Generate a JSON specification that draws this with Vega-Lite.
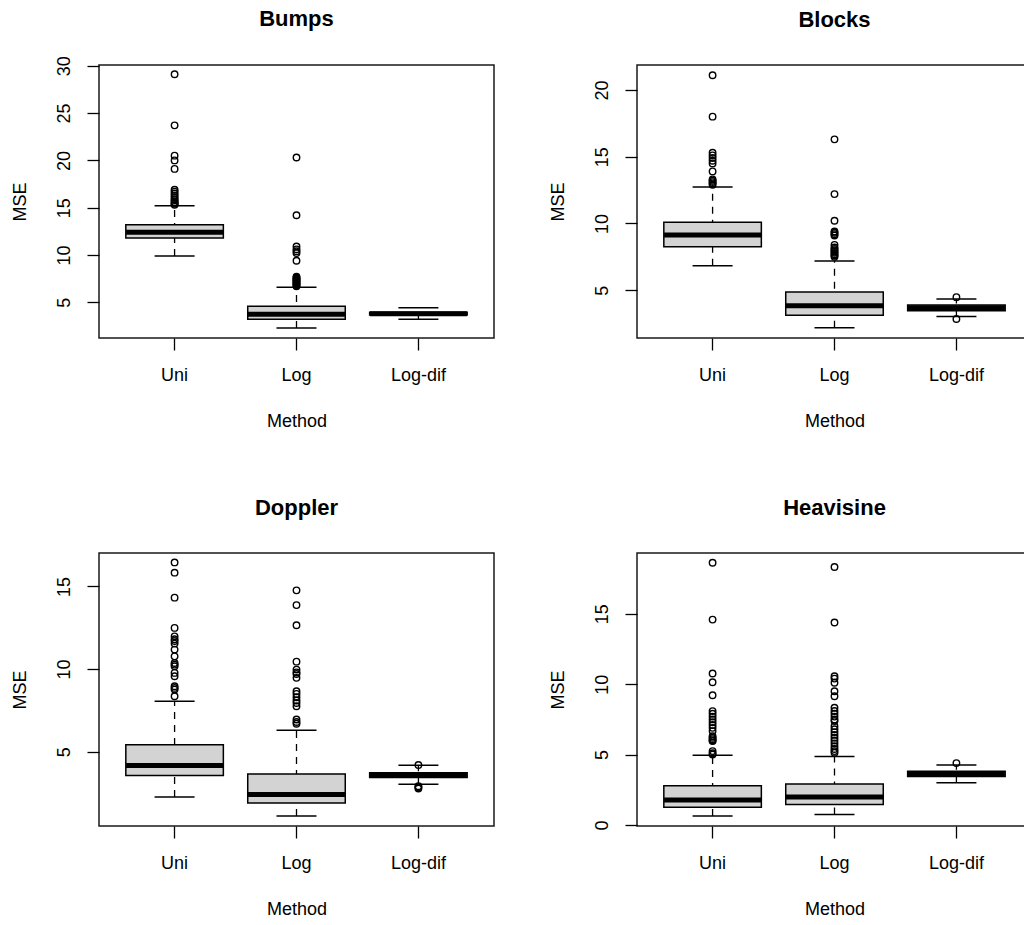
{
  "$schema": "https://vega.github.io/schema/vega-lite/v6.json",
  "padding": {"left": 10, "top": 6, "right": 0, "bottom": 0},
  "background": "white",
  "datasets": {
    "stats": [
      {"panel": "Bumps", "Method": "Uni", "lo": 9.9, "q1": 11.8, "med": 12.4, "q3": 13.2, "hi": 15.2},
      {"panel": "Bumps", "Method": "Log", "lo": 2.28, "q1": 3.2, "med": 3.73, "q3": 4.58, "hi": 6.58},
      {"panel": "Bumps", "Method": "Log-dif", "lo": 3.2, "q1": 3.65, "med": 3.8, "q3": 3.95, "hi": 4.42},
      {"panel": "Blocks", "Method": "Uni", "lo": 6.84, "q1": 8.25, "med": 9.13, "q3": 10.1, "hi": 12.73},
      {"panel": "Blocks", "Method": "Log", "lo": 2.19, "q1": 3.13, "med": 3.83, "q3": 4.87, "hi": 7.19},
      {"panel": "Blocks", "Method": "Log-dif", "lo": 3.03, "q1": 3.47, "med": 3.68, "q3": 3.89, "hi": 4.35},
      {"panel": "Doppler", "Method": "Uni", "lo": 2.26, "q1": 3.57, "med": 4.17, "q3": 5.42, "hi": 8.06},
      {"panel": "Doppler", "Method": "Log", "lo": 1.11, "q1": 1.9, "med": 2.42, "q3": 3.65, "hi": 6.3},
      {"panel": "Doppler", "Method": "Log-dif", "lo": 3.03, "q1": 3.45, "med": 3.6, "q3": 3.73, "hi": 4.19},
      {"panel": "Heavisine", "Method": "Uni", "lo": 0.64, "q1": 1.26, "med": 1.77, "q3": 2.79, "hi": 4.96},
      {"panel": "Heavisine", "Method": "Log", "lo": 0.74, "q1": 1.45, "med": 1.99, "q3": 2.91, "hi": 4.87},
      {"panel": "Heavisine", "Method": "Log-dif", "lo": 3.01, "q1": 3.44, "med": 3.63, "q3": 3.82, "hi": 4.26}
    ],
    "outliers": [
      {"panel": "Bumps", "Method": "Uni", "MSE": 29.1},
      {"panel": "Bumps", "Method": "Uni", "MSE": 23.7},
      {"panel": "Bumps", "Method": "Uni", "MSE": 20.5},
      {"panel": "Bumps", "Method": "Uni", "MSE": 20.0},
      {"panel": "Bumps", "Method": "Uni", "MSE": 19.1},
      {"panel": "Bumps", "Method": "Uni", "MSE": 16.9},
      {"panel": "Bumps", "Method": "Uni", "MSE": 16.7},
      {"panel": "Bumps", "Method": "Uni", "MSE": 16.5},
      {"panel": "Bumps", "Method": "Uni", "MSE": 16.3},
      {"panel": "Bumps", "Method": "Uni", "MSE": 16.1},
      {"panel": "Bumps", "Method": "Uni", "MSE": 15.9},
      {"panel": "Bumps", "Method": "Uni", "MSE": 15.8},
      {"panel": "Bumps", "Method": "Uni", "MSE": 15.6},
      {"panel": "Bumps", "Method": "Uni", "MSE": 15.5},
      {"panel": "Bumps", "Method": "Uni", "MSE": 15.4},
      {"panel": "Bumps", "Method": "Uni", "MSE": 15.3},
      {"panel": "Bumps", "Method": "Log", "MSE": 20.3},
      {"panel": "Bumps", "Method": "Log", "MSE": 14.2},
      {"panel": "Bumps", "Method": "Log", "MSE": 10.9},
      {"panel": "Bumps", "Method": "Log", "MSE": 10.6},
      {"panel": "Bumps", "Method": "Log", "MSE": 10.4},
      {"panel": "Bumps", "Method": "Log", "MSE": 10.2},
      {"panel": "Bumps", "Method": "Log", "MSE": 9.4},
      {"panel": "Bumps", "Method": "Log", "MSE": 7.7},
      {"panel": "Bumps", "Method": "Log", "MSE": 7.6},
      {"panel": "Bumps", "Method": "Log", "MSE": 7.5},
      {"panel": "Bumps", "Method": "Log", "MSE": 7.4},
      {"panel": "Bumps", "Method": "Log", "MSE": 7.3},
      {"panel": "Bumps", "Method": "Log", "MSE": 7.2},
      {"panel": "Bumps", "Method": "Log", "MSE": 7.1},
      {"panel": "Bumps", "Method": "Log", "MSE": 7.0},
      {"panel": "Bumps", "Method": "Log", "MSE": 6.9},
      {"panel": "Bumps", "Method": "Log", "MSE": 6.8},
      {"panel": "Bumps", "Method": "Log", "MSE": 6.7},
      {"panel": "Blocks", "Method": "Uni", "MSE": 21.1},
      {"panel": "Blocks", "Method": "Uni", "MSE": 18.0},
      {"panel": "Blocks", "Method": "Uni", "MSE": 15.3},
      {"panel": "Blocks", "Method": "Uni", "MSE": 15.1},
      {"panel": "Blocks", "Method": "Uni", "MSE": 14.9},
      {"panel": "Blocks", "Method": "Uni", "MSE": 14.7},
      {"panel": "Blocks", "Method": "Uni", "MSE": 14.5},
      {"panel": "Blocks", "Method": "Uni", "MSE": 13.9},
      {"panel": "Blocks", "Method": "Uni", "MSE": 13.3},
      {"panel": "Blocks", "Method": "Uni", "MSE": 13.2},
      {"panel": "Blocks", "Method": "Uni", "MSE": 13.1},
      {"panel": "Blocks", "Method": "Uni", "MSE": 13.0},
      {"panel": "Blocks", "Method": "Uni", "MSE": 12.9},
      {"panel": "Blocks", "Method": "Log", "MSE": 16.3},
      {"panel": "Blocks", "Method": "Log", "MSE": 12.2},
      {"panel": "Blocks", "Method": "Log", "MSE": 10.2},
      {"panel": "Blocks", "Method": "Log", "MSE": 9.4},
      {"panel": "Blocks", "Method": "Log", "MSE": 9.3},
      {"panel": "Blocks", "Method": "Log", "MSE": 9.2},
      {"panel": "Blocks", "Method": "Log", "MSE": 9.1},
      {"panel": "Blocks", "Method": "Log", "MSE": 8.4},
      {"panel": "Blocks", "Method": "Log", "MSE": 8.2},
      {"panel": "Blocks", "Method": "Log", "MSE": 8.1},
      {"panel": "Blocks", "Method": "Log", "MSE": 8.0},
      {"panel": "Blocks", "Method": "Log", "MSE": 7.9},
      {"panel": "Blocks", "Method": "Log", "MSE": 7.8},
      {"panel": "Blocks", "Method": "Log", "MSE": 7.7},
      {"panel": "Blocks", "Method": "Log", "MSE": 7.6},
      {"panel": "Blocks", "Method": "Log", "MSE": 7.5},
      {"panel": "Blocks", "Method": "Log-dif", "MSE": 4.48},
      {"panel": "Blocks", "Method": "Log-dif", "MSE": 2.84},
      {"panel": "Doppler", "Method": "Uni", "MSE": 16.45},
      {"panel": "Doppler", "Method": "Uni", "MSE": 15.83},
      {"panel": "Doppler", "Method": "Uni", "MSE": 14.32},
      {"panel": "Doppler", "Method": "Uni", "MSE": 12.49},
      {"panel": "Doppler", "Method": "Uni", "MSE": 11.98},
      {"panel": "Doppler", "Method": "Uni", "MSE": 11.8},
      {"panel": "Doppler", "Method": "Uni", "MSE": 11.7},
      {"panel": "Doppler", "Method": "Uni", "MSE": 11.54},
      {"panel": "Doppler", "Method": "Uni", "MSE": 11.18},
      {"panel": "Doppler", "Method": "Uni", "MSE": 10.77},
      {"panel": "Doppler", "Method": "Uni", "MSE": 10.37},
      {"panel": "Doppler", "Method": "Uni", "MSE": 10.27},
      {"panel": "Doppler", "Method": "Uni", "MSE": 10.17},
      {"panel": "Doppler", "Method": "Uni", "MSE": 9.77},
      {"panel": "Doppler", "Method": "Uni", "MSE": 9.57},
      {"panel": "Doppler", "Method": "Uni", "MSE": 8.96},
      {"panel": "Doppler", "Method": "Uni", "MSE": 8.86},
      {"panel": "Doppler", "Method": "Uni", "MSE": 8.76},
      {"panel": "Doppler", "Method": "Uni", "MSE": 8.36},
      {"panel": "Doppler", "Method": "Log", "MSE": 14.76},
      {"panel": "Doppler", "Method": "Log", "MSE": 13.87},
      {"panel": "Doppler", "Method": "Log", "MSE": 12.65},
      {"panel": "Doppler", "Method": "Log", "MSE": 10.45},
      {"panel": "Doppler", "Method": "Log", "MSE": 9.97},
      {"panel": "Doppler", "Method": "Log", "MSE": 9.8},
      {"panel": "Doppler", "Method": "Log", "MSE": 9.7},
      {"panel": "Doppler", "Method": "Log", "MSE": 9.47},
      {"panel": "Doppler", "Method": "Log", "MSE": 8.66},
      {"panel": "Doppler", "Method": "Log", "MSE": 8.5},
      {"panel": "Doppler", "Method": "Log", "MSE": 8.3},
      {"panel": "Doppler", "Method": "Log", "MSE": 8.1},
      {"panel": "Doppler", "Method": "Log", "MSE": 7.95},
      {"panel": "Doppler", "Method": "Log", "MSE": 7.75},
      {"panel": "Doppler", "Method": "Log", "MSE": 6.95},
      {"panel": "Doppler", "Method": "Log", "MSE": 6.8},
      {"panel": "Doppler", "Method": "Log", "MSE": 6.69},
      {"panel": "Doppler", "Method": "Log-dif", "MSE": 4.2},
      {"panel": "Doppler", "Method": "Log-dif", "MSE": 2.92},
      {"panel": "Doppler", "Method": "Log-dif", "MSE": 2.85},
      {"panel": "Doppler", "Method": "Log-dif", "MSE": 2.78},
      {"panel": "Heavisine", "Method": "Uni", "MSE": 18.63},
      {"panel": "Heavisine", "Method": "Uni", "MSE": 14.59},
      {"panel": "Heavisine", "Method": "Uni", "MSE": 10.76},
      {"panel": "Heavisine", "Method": "Uni", "MSE": 10.14},
      {"panel": "Heavisine", "Method": "Uni", "MSE": 9.22},
      {"panel": "Heavisine", "Method": "Uni", "MSE": 8.09},
      {"panel": "Heavisine", "Method": "Uni", "MSE": 7.9},
      {"panel": "Heavisine", "Method": "Uni", "MSE": 7.7},
      {"panel": "Heavisine", "Method": "Uni", "MSE": 7.5},
      {"panel": "Heavisine", "Method": "Uni", "MSE": 7.3},
      {"panel": "Heavisine", "Method": "Uni", "MSE": 7.1},
      {"panel": "Heavisine", "Method": "Uni", "MSE": 6.9},
      {"panel": "Heavisine", "Method": "Uni", "MSE": 6.67},
      {"panel": "Heavisine", "Method": "Uni", "MSE": 6.31},
      {"panel": "Heavisine", "Method": "Uni", "MSE": 6.2},
      {"panel": "Heavisine", "Method": "Uni", "MSE": 6.1},
      {"panel": "Heavisine", "Method": "Uni", "MSE": 6.0},
      {"panel": "Heavisine", "Method": "Uni", "MSE": 5.96},
      {"panel": "Heavisine", "Method": "Uni", "MSE": 5.25},
      {"panel": "Heavisine", "Method": "Uni", "MSE": 5.1},
      {"panel": "Heavisine", "Method": "Uni", "MSE": 5.01},
      {"panel": "Heavisine", "Method": "Log", "MSE": 18.33},
      {"panel": "Heavisine", "Method": "Log", "MSE": 14.38},
      {"panel": "Heavisine", "Method": "Log", "MSE": 10.57},
      {"panel": "Heavisine", "Method": "Log", "MSE": 10.4},
      {"panel": "Heavisine", "Method": "Log", "MSE": 10.1},
      {"panel": "Heavisine", "Method": "Log", "MSE": 9.5},
      {"panel": "Heavisine", "Method": "Log", "MSE": 9.15},
      {"panel": "Heavisine", "Method": "Log", "MSE": 8.33},
      {"panel": "Heavisine", "Method": "Log", "MSE": 8.1},
      {"panel": "Heavisine", "Method": "Log", "MSE": 7.9},
      {"panel": "Heavisine", "Method": "Log", "MSE": 7.7},
      {"panel": "Heavisine", "Method": "Log", "MSE": 7.5},
      {"panel": "Heavisine", "Method": "Log", "MSE": 7.38},
      {"panel": "Heavisine", "Method": "Log", "MSE": 7.02},
      {"panel": "Heavisine", "Method": "Log", "MSE": 6.8},
      {"panel": "Heavisine", "Method": "Log", "MSE": 6.6},
      {"panel": "Heavisine", "Method": "Log", "MSE": 6.4},
      {"panel": "Heavisine", "Method": "Log", "MSE": 6.2},
      {"panel": "Heavisine", "Method": "Log", "MSE": 6.0},
      {"panel": "Heavisine", "Method": "Log", "MSE": 5.8},
      {"panel": "Heavisine", "Method": "Log", "MSE": 5.6},
      {"panel": "Heavisine", "Method": "Log", "MSE": 5.4},
      {"panel": "Heavisine", "Method": "Log", "MSE": 5.25},
      {"panel": "Heavisine", "Method": "Log", "MSE": 5.13},
      {"panel": "Heavisine", "Method": "Log-dif", "MSE": 4.4}
    ]
  },
  "columns": 2,
  "spacing": {"row": 215, "column": 143},
  "bounds": "flush",
  "concat": [
    {
      "title": {"text": "Bumps", "offset": 25}, "width": 395, "height": 273,
      "encoding": {"x": {"field": "Method", "type": "nominal", "title": "Method", "scale": {"type": "band", "domain": ["Uni", "Log", "Log-dif"], "paddingInner": 0, "paddingOuter": 0.12}}},
      "layer": [
        {"data": {"name": "stats"}, "transform": [{"filter": "datum.panel === 'Bumps'"}], "mark": {"type": "rule", "strokeDash": [7, 6], "color": "#000", "strokeWidth": 1.3}, "encoding": {"y": {"field": "lo", "type": "quantitative", "title": "MSE", "scale": {"domain": [1.23, 30.08], "nice": false, "zero": false}, "axis": {"values": [5, 10, 15, 20, 25, 30]}}, "y2": {"field": "hi"}}},
        {"data": {"name": "stats"}, "transform": [{"filter": "datum.panel === 'Bumps'"}], "mark": {"type": "tick", "size": 40, "thickness": 1.5, "color": "#000", "opacity": 1}, "encoding": {"y": {"field": "lo", "type": "quantitative", "title": "MSE"}}},
        {"data": {"name": "stats"}, "transform": [{"filter": "datum.panel === 'Bumps'"}], "mark": {"type": "tick", "size": 40, "thickness": 1.5, "color": "#000", "opacity": 1}, "encoding": {"y": {"field": "hi", "type": "quantitative", "title": "MSE"}}},
        {"data": {"name": "stats"}, "transform": [{"filter": "datum.panel === 'Bumps'"}], "mark": {"type": "bar", "width": {"band": 0.8}, "fill": "#d3d3d3", "stroke": "#000", "strokeWidth": 1.5, "opacity": 1}, "encoding": {"y": {"field": "q1", "type": "quantitative", "title": "MSE"}, "y2": {"field": "q3"}}},
        {"data": {"name": "stats"}, "transform": [{"filter": "datum.panel === 'Bumps'"}], "mark": {"type": "tick", "size": 97, "thickness": 5, "color": "#000", "opacity": 1}, "encoding": {"y": {"field": "med", "type": "quantitative", "title": "MSE"}}},
        {"data": {"name": "outliers"}, "transform": [{"filter": "datum.panel === 'Bumps'"}], "mark": {"type": "point", "shape": "circle", "filled": false, "size": 42, "strokeWidth": 1.4, "color": "#000", "opacity": 1}, "encoding": {"y": {"field": "MSE", "type": "quantitative", "title": "MSE"}}}
      ]
    },
    {
      "title": {"text": "Blocks", "offset": 33}, "width": 395, "height": 273,
      "encoding": {"x": {"field": "Method", "type": "nominal", "title": "Method", "scale": {"type": "band", "domain": ["Uni", "Log", "Log-dif"], "paddingInner": 0, "paddingOuter": 0.12}}},
      "layer": [
        {"data": {"name": "stats"}, "transform": [{"filter": "datum.panel === 'Blocks'"}], "mark": {"type": "rule", "strokeDash": [7, 6], "color": "#000", "strokeWidth": 1.3}, "encoding": {"y": {"field": "lo", "type": "quantitative", "title": "MSE", "scale": {"domain": [1.42, 21.87], "nice": false, "zero": false}, "axis": {"values": [5, 10, 15, 20]}}, "y2": {"field": "hi"}}},
        {"data": {"name": "stats"}, "transform": [{"filter": "datum.panel === 'Blocks'"}], "mark": {"type": "tick", "size": 40, "thickness": 1.5, "color": "#000", "opacity": 1}, "encoding": {"y": {"field": "lo", "type": "quantitative", "title": "MSE"}}},
        {"data": {"name": "stats"}, "transform": [{"filter": "datum.panel === 'Blocks'"}], "mark": {"type": "tick", "size": 40, "thickness": 1.5, "color": "#000", "opacity": 1}, "encoding": {"y": {"field": "hi", "type": "quantitative", "title": "MSE"}}},
        {"data": {"name": "stats"}, "transform": [{"filter": "datum.panel === 'Blocks'"}], "mark": {"type": "bar", "width": {"band": 0.8}, "fill": "#d3d3d3", "stroke": "#000", "strokeWidth": 1.5, "opacity": 1}, "encoding": {"y": {"field": "q1", "type": "quantitative", "title": "MSE"}, "y2": {"field": "q3"}}},
        {"data": {"name": "stats"}, "transform": [{"filter": "datum.panel === 'Blocks'"}], "mark": {"type": "tick", "size": 97, "thickness": 5, "color": "#000", "opacity": 1}, "encoding": {"y": {"field": "med", "type": "quantitative", "title": "MSE"}}},
        {"data": {"name": "outliers"}, "transform": [{"filter": "datum.panel === 'Blocks'"}], "mark": {"type": "point", "shape": "circle", "filled": false, "size": 42, "strokeWidth": 1.4, "color": "#000", "opacity": 1}, "encoding": {"y": {"field": "MSE", "type": "quantitative", "title": "MSE"}}}
      ]
    },
    {
      "title": {"text": "Doppler", "offset": 33}, "width": 395, "height": 273,
      "encoding": {"x": {"field": "Method", "type": "nominal", "title": "Method", "scale": {"type": "band", "domain": ["Uni", "Log", "Log-dif"], "paddingInner": 0, "paddingOuter": 0.12}}},
      "layer": [
        {"data": {"name": "stats"}, "transform": [{"filter": "datum.panel === 'Doppler'"}], "mark": {"type": "rule", "strokeDash": [7, 6], "color": "#000", "strokeWidth": 1.3}, "encoding": {"y": {"field": "lo", "type": "quantitative", "title": "MSE", "scale": {"domain": [0.51, 17.02], "nice": false, "zero": false}, "axis": {"values": [5, 10, 15]}}, "y2": {"field": "hi"}}},
        {"data": {"name": "stats"}, "transform": [{"filter": "datum.panel === 'Doppler'"}], "mark": {"type": "tick", "size": 40, "thickness": 1.5, "color": "#000", "opacity": 1}, "encoding": {"y": {"field": "lo", "type": "quantitative", "title": "MSE"}}},
        {"data": {"name": "stats"}, "transform": [{"filter": "datum.panel === 'Doppler'"}], "mark": {"type": "tick", "size": 40, "thickness": 1.5, "color": "#000", "opacity": 1}, "encoding": {"y": {"field": "hi", "type": "quantitative", "title": "MSE"}}},
        {"data": {"name": "stats"}, "transform": [{"filter": "datum.panel === 'Doppler'"}], "mark": {"type": "bar", "width": {"band": 0.8}, "fill": "#d3d3d3", "stroke": "#000", "strokeWidth": 1.5, "opacity": 1}, "encoding": {"y": {"field": "q1", "type": "quantitative", "title": "MSE"}, "y2": {"field": "q3"}}},
        {"data": {"name": "stats"}, "transform": [{"filter": "datum.panel === 'Doppler'"}], "mark": {"type": "tick", "size": 97, "thickness": 5, "color": "#000", "opacity": 1}, "encoding": {"y": {"field": "med", "type": "quantitative", "title": "MSE"}}},
        {"data": {"name": "outliers"}, "transform": [{"filter": "datum.panel === 'Doppler'"}], "mark": {"type": "point", "shape": "circle", "filled": false, "size": 42, "strokeWidth": 1.4, "color": "#000", "opacity": 1}, "encoding": {"y": {"field": "MSE", "type": "quantitative", "title": "MSE"}}}
      ]
    },
    {
      "title": {"text": "Heavisine", "offset": 33}, "width": 395, "height": 273,
      "encoding": {"x": {"field": "Method", "type": "nominal", "title": "Method", "scale": {"type": "band", "domain": ["Uni", "Log", "Log-dif"], "paddingInner": 0, "paddingOuter": 0.12}}},
      "layer": [
        {"data": {"name": "stats"}, "transform": [{"filter": "datum.panel === 'Heavisine'"}], "mark": {"type": "rule", "strokeDash": [7, 6], "color": "#000", "strokeWidth": 1.3}, "encoding": {"y": {"field": "lo", "type": "quantitative", "title": "MSE", "scale": {"domain": [-0.07, 19.32], "nice": false, "zero": false}, "axis": {"values": [0, 5, 10, 15]}}, "y2": {"field": "hi"}}},
        {"data": {"name": "stats"}, "transform": [{"filter": "datum.panel === 'Heavisine'"}], "mark": {"type": "tick", "size": 40, "thickness": 1.5, "color": "#000", "opacity": 1}, "encoding": {"y": {"field": "lo", "type": "quantitative", "title": "MSE"}}},
        {"data": {"name": "stats"}, "transform": [{"filter": "datum.panel === 'Heavisine'"}], "mark": {"type": "tick", "size": 40, "thickness": 1.5, "color": "#000", "opacity": 1}, "encoding": {"y": {"field": "hi", "type": "quantitative", "title": "MSE"}}},
        {"data": {"name": "stats"}, "transform": [{"filter": "datum.panel === 'Heavisine'"}], "mark": {"type": "bar", "width": {"band": 0.8}, "fill": "#d3d3d3", "stroke": "#000", "strokeWidth": 1.5, "opacity": 1}, "encoding": {"y": {"field": "q1", "type": "quantitative", "title": "MSE"}, "y2": {"field": "q3"}}},
        {"data": {"name": "stats"}, "transform": [{"filter": "datum.panel === 'Heavisine'"}], "mark": {"type": "tick", "size": 97, "thickness": 5, "color": "#000", "opacity": 1}, "encoding": {"y": {"field": "med", "type": "quantitative", "title": "MSE"}}},
        {"data": {"name": "outliers"}, "transform": [{"filter": "datum.panel === 'Heavisine'"}], "mark": {"type": "point", "shape": "circle", "filled": false, "size": 42, "strokeWidth": 1.4, "color": "#000", "opacity": 1}, "encoding": {"y": {"field": "MSE", "type": "quantitative", "title": "MSE"}}}
      ]
    }
  ],
  "config": {
    "font": "Liberation Sans",
    "view": {"stroke": "#1a1a1a", "strokeWidth": 1.5},
    "axis": {"grid": false, "domain": false, "tickColor": "#000", "tickSize": 12, "tickWidth": 1.3, "labelFontSize": 18, "titleFontSize": 18, "titleFontWeight": "normal", "labelColor": "#000", "titleColor": "#000", "labelFont": "Liberation Sans", "titleFont": "Liberation Sans"},
    "axisX": {"labelAngle": 0, "labelPadding": 16, "titlePadding": 28},
    "axisY": {"labelAngle": -90, "labelPadding": 14, "titlePadding": 26},
    "title": {"fontSize": 22, "fontWeight": "bold", "font": "Liberation Sans", "color": "#000", "anchor": "middle"}
  }
}
